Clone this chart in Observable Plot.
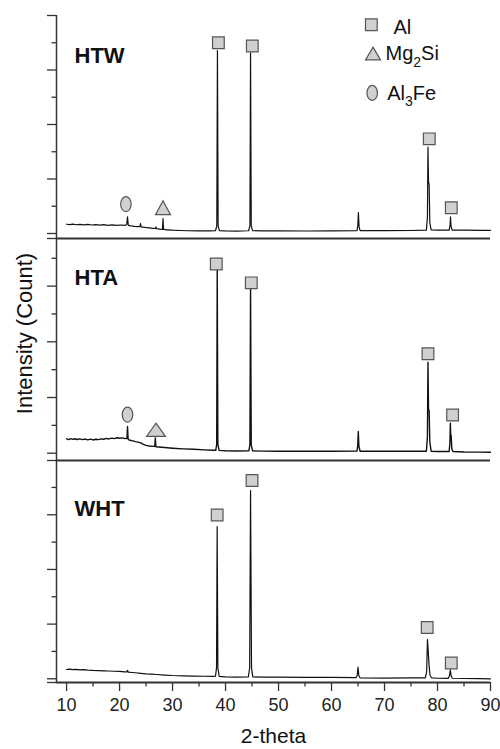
<!DOCTYPE html>
<html><head><meta charset="utf-8">
<script src="https://cdn.jsdelivr.net/npm/d3@7"></script>
<script src="https://cdn.jsdelivr.net/npm/@observablehq/plot@0.6"></script>
<style>
body{margin:0;background:#fff;}
#chart{width:500px;}
#chart svg{display:block;}
</style></head><body><div id="chart"></div>
<script>
// ---------- data (2-theta, counts) ----------
const X_DOMAIN = [8.1, 90];
const X_MAJOR = [10, 20, 30, 40, 50, 60, 70, 80, 90];
const X_MINOR = [15, 25, 35, 45, 55, 65, 75, 85];

const HTW = [[10.0,170],[10.6,162],[11.2,172],[11.8,160],[12.5,168],[13.2,158],[14.0,166],[14.8,156],[15.5,164],[16.3,154],[17.0,162],[17.8,150],[18.6,158],[19.4,148],[20.2,156],[21.0,150],[21.35,160],[21.5,304],[21.65,150],[22.2,140],[22.8,132],[23.5,126],[23.85,130],[23.95,183],[24.05,122],[24.8,112],[25.6,104],[26.4,95],[26.75,92],[26.85,121],[26.95,88],[27.6,80],[28.1,76],[28.2,275],[28.3,74],[29.0,68],[30.0,60],[31.5,55],[33.0,50],[35.0,48],[37.0,47],[38.1,50],[38.35,140],[38.47,3358],[38.6,140],[38.85,52],[40.0,47],[42.0,45],[44.35,50],[44.6,140],[44.72,3313],[44.85,140],[45.1,52],[47.0,47],[50.0,48],[55.0,46],[60.0,48],[64.8,50],[64.97,150],[65.07,385],[65.2,120],[65.4,52],[70.0,52],[75.0,55],[77.9,62],[78.1,300],[78.2,1587],[78.3,950],[78.42,900],[78.55,200],[78.8,68],[80.0,62],[82.2,62],[82.37,150],[82.45,304],[82.55,140],[82.75,62],[85.0,60],[88.0,58],[90.0,58]];
const HTA = [[10.0,258],[10.4,245],[10.8,262],[11.2,248],[11.6,260],[12.0,246],[12.5,258],[13.0,244],[13.5,254],[14.0,240],[14.5,252],[15.0,238],[15.5,250],[16.0,244],[16.5,258],[17.0,250],[17.5,266],[18.0,256],[18.5,270],[19.0,262],[19.5,278],[20.0,268],[20.5,276],[21.0,262],[21.4,268],[21.5,479],[21.62,250],[22.0,232],[22.5,222],[23.0,208],[23.5,198],[24.0,186],[24.5,160],[25.0,140],[25.6,130],[26.2,124],[26.65,122],[26.75,276],[26.85,116],[27.4,112],[28.0,108],[29.0,98],[30.0,90],[32.0,78],[34.0,70],[36.0,60],[37.5,54],[38.15,52],[38.33,160],[38.43,3293],[38.55,160],[38.8,50],[40.0,44],[42.0,40],[44.4,42],[44.6,150],[44.72,2952],[44.85,150],[45.1,42],[47.0,38],[50.0,36],[55.0,35],[60.0,36],[64.8,37],[64.95,140],[65.05,390],[65.17,120],[65.4,36],[70.0,35],[75.0,34],[77.9,36],[78.1,300],[78.2,1634],[78.3,800],[78.42,760],[78.55,200],[78.8,36],[80.0,30],[82.2,30],[82.35,200],[82.42,539],[82.5,320],[82.58,318],[82.7,80],[82.9,30],[85.0,22],[88.0,20],[90.0,18]];
const WHT = [[10.0,170],[10.6,176],[11.2,166],[11.8,172],[12.5,162],[13.2,166],[14.0,158],[15.0,152],[16.0,150],[17.0,145],[18.0,142],[19.0,138],[20.0,134],[21.0,128],[21.4,126],[21.5,157],[21.65,121],[22.3,115],[23.0,110],[24.0,100],[25.0,91],[26.0,85],[27.0,78],[28.5,68],[30.0,60],[32.0,54],[34.0,50],[36.0,46],[37.8,43],[38.1,50],[38.3,200],[38.42,2786],[38.55,200],[38.8,45],[40.0,36],[42.0,32],[44.3,33],[44.55,200],[44.72,3444],[44.9,200],[45.15,34],[47.0,30],[50.0,29],[55.0,27],[60.0,25],[64.6,22],[64.85,60],[65.0,212],[65.15,60],[65.4,15],[70.0,12],[75.0,15],[77.7,18],[77.95,120],[78.1,719],[78.25,500],[78.4,250],[78.6,60],[78.9,15],[80.0,10],[82.0,8],[82.25,50],[82.42,165],[82.55,60],[82.8,10],[85.0,5],[88.0,2],[90.0,0]];

// phase markers (2-theta, counts)
const HTW_AL = [[38.65,3500],[45.05,3440],[78.45,1737],[82.6,473]];
const HTW_MG2SI = [[28.2,473]];
const HTW_AL3FE = [[21.2,537]];
const HTA_AL = [[38.25,3397],[44.86,3059],[78.2,1785],[82.85,686]];
const HTA_MG2SI = [[26.88,420]];
const HTA_AL3FE = [[21.5,691]];
const WHT_AL = [[38.42,2996],[45.0,3627],[78.05,938],[82.6,289]];

// legend
const LEGEND_LABELS = ["Al", "Mg2Si", "Al3Fe"];
const LEGEND_TEXT_X = [71.7, 70.19, 70.5];
const LEGEND_TEXT_Y = [3787, 3298, 2570];
const LEGEND_SYM_X = [67.51, 67.83, 67.68];
const LEGEND_SYM_Y = [3831, 3303, 2580];

// y ticks (counts)
const Y_MAJOR_TOP = [0, 1000, 2000, 3000, 4000];
const Y_MAJOR = [0, 1000, 2000, 3000];
const Y_MINOR = [500, 1500, 2500, 3500];

(function () {
// ---------- symbols ----------
const FONT = "'Liberation Sans', Arial, Helvetica, sans-serif";
const AX = "#333";
const FILL = "#d0d0d0", MSTROKE = "#555";
const squareSym = {draw(ctx, size) { const r = Math.sqrt(size / Math.PI); ctx.moveTo(-r, -r); ctx.lineTo(r, -r); ctx.lineTo(r, r); ctx.lineTo(-r, r); ctx.closePath(); }};
function triSym(aspect) { return {draw(ctx, size) { const r = Math.sqrt(size / Math.PI); const h = 2 * r * aspect; ctx.moveTo(0, -h / 2); ctx.lineTo(r, h / 2); ctx.lineTo(-r, h / 2); ctx.closePath(); }}; }
const ellSym = {draw(ctx, size) { const ry = Math.sqrt(size / Math.PI), rx = ry * 0.7, k = 0.5523;
  ctx.moveTo(rx, 0); ctx.bezierCurveTo(rx, ry * k, rx * k, ry, 0, ry); ctx.bezierCurveTo(-rx * k, ry, -rx, ry * k, -rx, 0);
  ctx.bezierCurveTo(-rx, -ry * k, -rx * k, -ry, 0, -ry); ctx.bezierCurveTo(rx * k, -ry, rx, -ry * k, rx, 0); ctx.closePath(); }};

const px = d => d[0], py = d => d[1];
const dotStyle = {x: px, y: py, fill: FILL, stroke: MSTROKE, strokeWidth: 1.2};

function panel(o) {
  const marks = [
    Plot.axisY({ticks: o.majors.concat([o.yDomain[0]]), tickSize: 9, tickFormat: () => "", stroke: AX, strokeWidth: 1.3, label: null}),
    Plot.axisY({ticks: Y_MINOR, tickSize: 4.5, tickFormat: () => "", stroke: AX, strokeWidth: 1.3, label: null}),
    Plot.ruleX([X_DOMAIN[0]], {stroke: AX, strokeWidth: 1.5}),
    Plot.ruleY([o.yDomain[0]], {stroke: AX, strokeWidth: 2}),
    Plot.line(o.data, {x: px, y: py, stroke: "#111", strokeWidth: o.lineWidth || 1.2}),
    Plot.dot(o.al, {...dotStyle, symbol: squareSym, r: 5.85}),
    o.mg ? Plot.dot(o.mg, {...dotStyle, symbol: triSym(o.triAspect), r: o.triR}) : null,
    o.fe ? Plot.dot(o.fe, {...dotStyle, symbol: ellSym, r: 7.5}) : null,
    Plot.text([o.name], {frameAnchor: "top-left", dx: 18, dy: o.labelDy, fontSize: 22, fontWeight: "bold", fill: "#111", textAnchor: "start", lineAnchor: "middle"}),
    ...(o.extra || [])
  ];
  return Plot.plot({
    width: 500, height: o.height,
    marginLeft: 56, marginRight: 10, marginTop: o.marginTop, marginBottom: o.marginBottom,
    style: {fontFamily: FONT, overflow: "visible", background: "transparent"},
    x: {domain: X_DOMAIN, axis: o.xAxis ? undefined : null},
    y: {domain: o.yDomain},
    marks
  });
}

const legendIdx = [0, 1, 2];
const topPlot = panel({
  name: "HTW", data: HTW, al: HTW_AL, mg: HTW_MG2SI, fe: HTW_AL3FE, triAspect: 0.93, triR: 7.5,
  yDomain: [-92, 4000], majors: Y_MAJOR_TOP, height: 238, marginTop: 15, marginBottom: 0, labelDy: 40.8,
  extra: [
    Plot.dot([legendIdx[0]], {x: i => LEGEND_SYM_X[i], y: i => LEGEND_SYM_Y[i], symbol: squareSym, r: 5.85, fill: FILL, stroke: MSTROKE, strokeWidth: 1.2}),
    Plot.dot([legendIdx[1]], {x: i => LEGEND_SYM_X[i], y: i => LEGEND_SYM_Y[i], symbol: triSym(0.85), r: 7.5, fill: FILL, stroke: MSTROKE, strokeWidth: 1.2}),
    Plot.dot([legendIdx[2]], {x: i => LEGEND_SYM_X[i], y: i => LEGEND_SYM_Y[i], symbol: ellSym, r: 7.5, fill: FILL, stroke: MSTROKE, strokeWidth: 1.2}),
    Plot.text(legendIdx, {x: i => LEGEND_TEXT_X[i], y: i => LEGEND_TEXT_Y[i], text: i => LEGEND_LABELS[i], fontSize: 20, fill: "#111", textAnchor: "start", lineAnchor: "middle"})
  ]
});
const midPlot = panel({
  name: "HTA", data: HTA, al: HTA_AL, mg: HTA_MG2SI, fe: HTA_AL3FE, triAspect: 0.7, triR: 9.5, lineWidth: 1.4,
  yDomain: [-131, 3855], majors: Y_MAJOR, height: 222, marginTop: 0, marginBottom: 0, labelDy: 39.8,
  extra: [
    Plot.text(["Intensity (Count)"], {frameAnchor: "left", rotate: -90, dx: -31.5, dy: -16, fontSize: 22, fill: "#111", textAnchor: "middle", lineAnchor: "middle"})
  ]
});
const botPlot = panel({
  name: "WHT", data: WHT, al: WHT_AL, yDomain: [-68, 3993], majors: Y_MAJOR, height: 289, marginTop: 0, marginBottom: 67, labelDy: 48.8, xAxis: true,
  extra: [
    Plot.axisX({ticks: X_MAJOR, tickSize: 9, tickPadding: 7, fontSize: 18, color: "#222", stroke: AX, strokeWidth: 1.3, label: null, tickFormat: d => String(d)}),
    Plot.axisX({ticks: X_MINOR, tickSize: 4.5, tickFormat: () => "", stroke: AX, strokeWidth: 1.3, label: null}),
    Plot.text(["2-theta"], {frameAnchor: "bottom", dy: 60, fontSize: 21, fill: "#111", lineAnchor: "bottom"})
  ]
});

topPlot.querySelectorAll("text").forEach(t => {
  if (t.textContent === "Mg2Si") t.innerHTML = 'Mg<tspan dy="6.5" font-size="14">2</tspan><tspan dy="-6.5">Si</tspan>';
  if (t.textContent === "Al3Fe") t.innerHTML = 'Al<tspan dy="6.5" font-size="14">3</tspan><tspan dy="-6.5">Fe</tspan>';
});

document.getElementById("chart").append(topPlot, midPlot, botPlot);
})();
</script>
</body></html>
